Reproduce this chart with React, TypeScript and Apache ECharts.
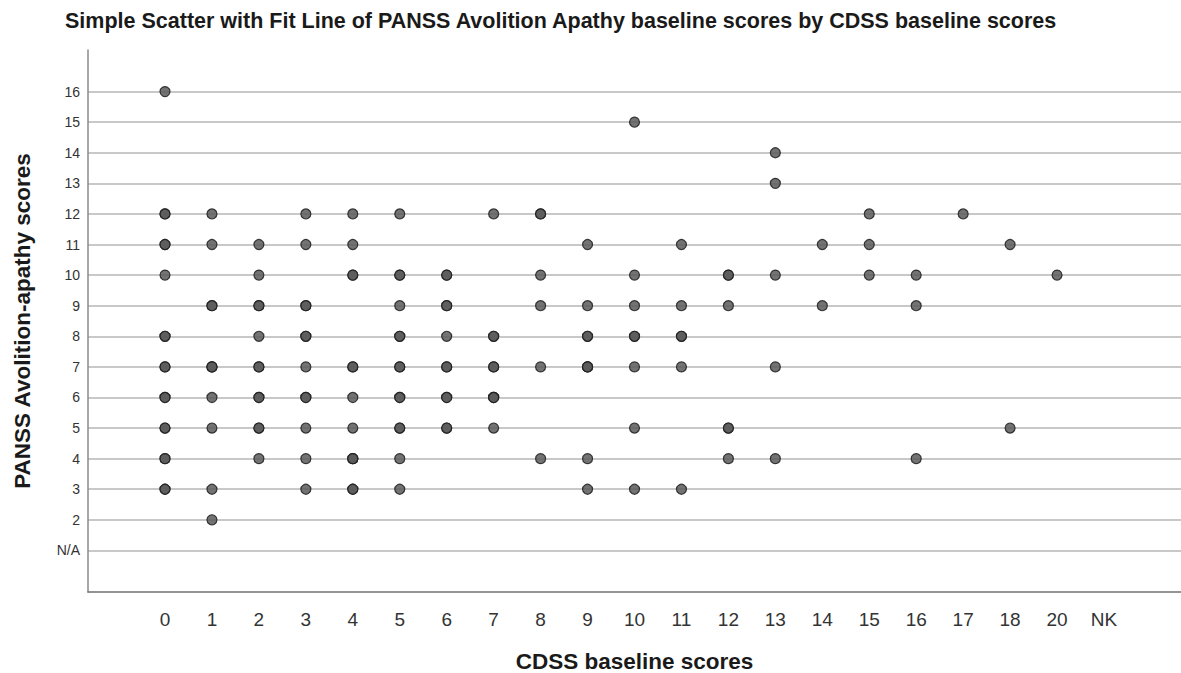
import React, { useEffect, useRef } from "react";
import * as echarts from "echarts";

// Category labels
const xCategories = ["0","1","2","3","4","5","6","7","8","9","10","11","12","13","14","15","16","17","18","20","NK"];
const yCategories = ["N/A","2","3","4","5","6","7","8","9","10","11","12","13","14","15","16"];

// CDSS baseline scores observed at each PANSS Avolition-apathy score (repeats = overlapping cases)
const panss16 = [0];
const panss15 = [10];
const panss14 = [13];
const panss13 = [13];
const panss12 = [0,0,1,3,4,5,7,8,8,15,17];
const panss11 = [0,0,1,2,3,4,9,11,14,15,18];
const panss10 = [0,2,4,4,5,5,6,6,8,10,12,12,13,15,16,20];
const panss9 = [1,1,2,2,3,3,5,6,6,8,9,10,11,12,14,16];
const panss8 = [0,0,2,3,3,5,5,6,7,7,9,9,10,10,11,11];
const panss7 = [0,0,1,1,1,2,2,3,4,4,5,5,6,6,7,7,8,9,9,9,10,11,13];
const panss6 = [0,0,1,2,2,3,3,4,5,5,6,6,7,7,7];
const panss5 = [0,0,1,2,2,3,4,5,5,6,6,7,10,12,12,18];
const panss4 = [0,0,2,3,4,4,4,5,8,9,12,13,16];
const panss3 = [0,0,1,3,4,4,5,9,10,11];
const panss2 = [1];

const rows: [string, number[]][] = [
  ["16", panss16], ["15", panss15], ["14", panss14], ["13", panss13],
  ["12", panss12], ["11", panss11], ["10", panss10], ["9", panss9],
  ["8", panss8], ["7", panss7], ["6", panss6], ["5", panss5],
  ["4", panss4], ["3", panss3], ["2", panss2],
];

export default function App() {
  const ref = useRef<HTMLDivElement>(null);
  useEffect(() => {
    document.body.style.margin = "0";
    if (!ref.current) return;
    const chart = echarts.init(ref.current, undefined, { renderer: "svg" });
    const points: number[][] = [];
    rows.forEach(([yLabel, xs]) => {
      const yi = yCategories.indexOf(yLabel);
      xs.forEach((x) => {
        points.push([xCategories.indexOf(String(x)), yi]);
      });
    });
    const font = "'Liberation Sans', Arial, sans-serif";
    chart.setOption({
      animation: false,
      backgroundColor: "#ffffff",
      title: {
        text: "Simple Scatter with Fit Line of PANSS Avolition Apathy baseline scores by CDSS baseline scores",
        left: 60,
        top: 5,
        textStyle: { fontFamily: font, fontSize: 21.5, fontWeight: "bold", color: "#1a1a1a" },
      },
      grid: { left: 88, right: 0, top: 50, bottom: 81, containLabel: false, outerBoundsMode: "none" },
      xAxis: {
        type: "value",
        min: -1.64,
        max: 21.64,
        name: "CDSS baseline scores",
        nameLocation: "middle",
        nameGap: 58,
        nameTextStyle: { fontFamily: font, fontSize: 22.5, fontWeight: "bold", color: "#1a1a1a" },
        axisLine: { show: true, onZero: false, lineStyle: { color: "#707070", width: 1.5 } },
        axisTick: { show: false, customValues: xCategories.map((_, i) => i) },
        axisLabel: {
          customValues: xCategories.map((_, i) => i),
          formatter: (v: number) => xCategories[Math.round(v)] ?? "",
          margin: 18,
          fontFamily: font,
          fontSize: 19,
          color: "#333",
        },
        splitLine: { show: false },
      },
      yAxis: {
        type: "value",
        min: -1.36,
        max: 16.36,
        name: "PANSS Avolition-apathy scores",
        nameLocation: "middle",
        nameGap: 54,
        nameTextStyle: { fontFamily: font, fontSize: 22.5, fontWeight: "bold", color: "#1a1a1a" },
        axisLine: { show: true, onZero: false, lineStyle: { color: "#8a8a8a", width: 1.5 } },
        axisTick: { show: false, customValues: yCategories.map((_, i) => i) },
        axisLabel: {
          customValues: yCategories.map((_, i) => i),
          formatter: (v: number) => yCategories[Math.round(v)] ?? "",
          margin: 8,
          fontFamily: font,
          fontSize: 14,
          color: "#333",
        },
        splitLine: { show: true, lineStyle: { color: "#c8c8c8", width: 2 } },
      },
      series: [
        {
          type: "scatter",
          data: points,
          symbol: "circle",
          symbolSize: 10,
          itemStyle: { color: "#5a5a5a", borderColor: "#1e1e1e", borderWidth: 1.2, opacity: 0.85 },
        },
      ],
    });
    return () => chart.dispose();
  }, []);
  return <div ref={ref} style={{ width: 1181, height: 673 }} />;
}
